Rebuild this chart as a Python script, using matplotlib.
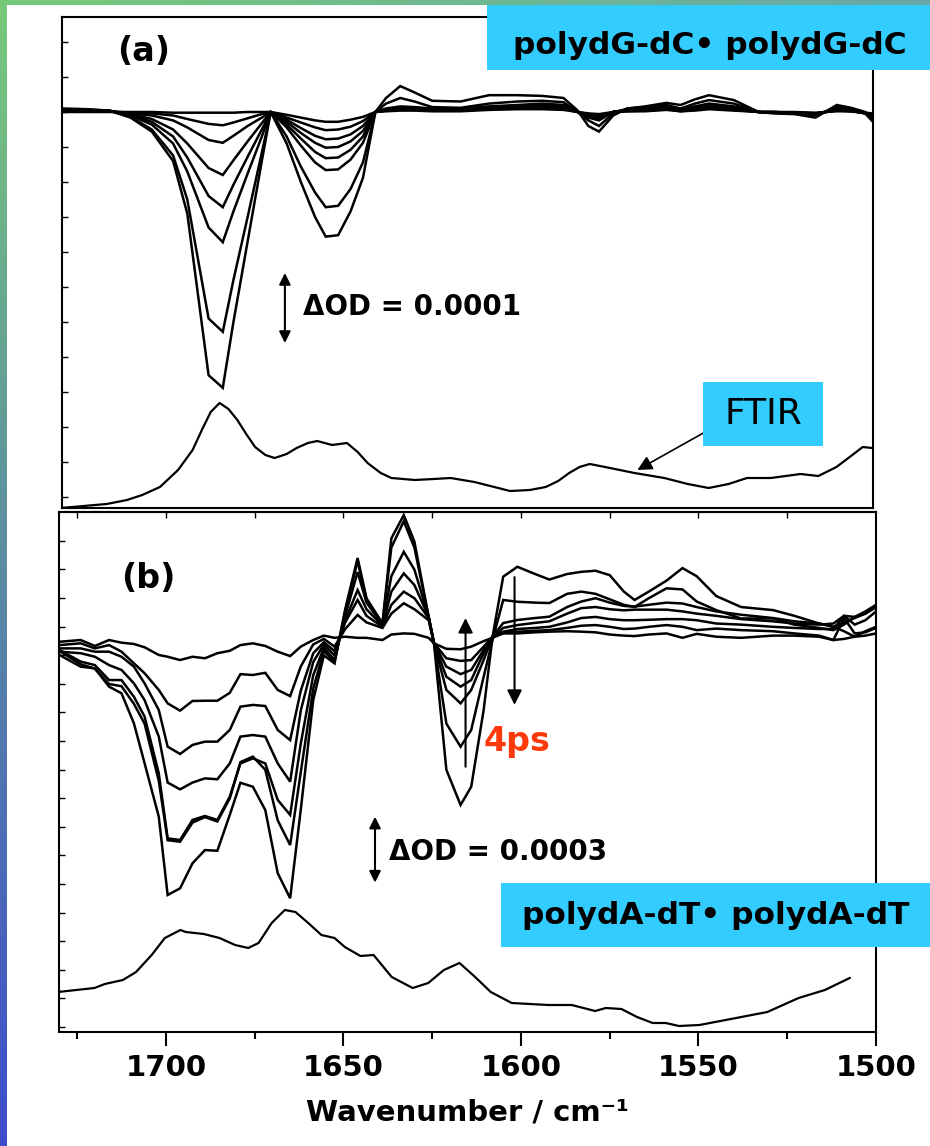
import numpy as np
import matplotlib
matplotlib.use('Agg')
import matplotlib.pyplot as plt
from matplotlib.patches import Rectangle

plt.rcParams['font.family'] = ['DejaVu Sans']

# ---------------- data: panel (a) transient spectra (units of 1e-4 OD) -------------
wn_a = [1729, 1722, 1716, 1710, 1704, 1698, 1694, 1688, 1684, 1681,
        1677, 1673, 1670.5, 1666, 1662, 1658, 1655, 1651.5, 1648, 1644.5,
        1641, 1638, 1634, 1630, 1625, 1617, 1609, 1601, 1594, 1588,
        1584, 1581, 1578, 1574, 1570, 1565, 1559, 1555, 1551, 1547,
        1540, 1533, 1529, 1523, 1517, 1511, 1507, 1503, 1501]
a1 = [0.05, 0.04, 0.02, -0.08, -0.28, -0.7, -1.45, -3.76, -3.94, -3.0,
      -1.85, -0.7, 0.0, -0.45, -1.0, -1.5, -1.78, -1.76, -1.42, -0.94,
      0.0, 0.2, 0.37, 0.28, 0.16, 0.15, 0.24, 0.24, 0.23, 0.2,
      0.02, -0.2, -0.28, -0.05, 0.05, 0.08, 0.13, 0.1, 0.18, 0.24,
      0.17, 0.0, -0.02, -0.03, -0.08, 0.1, 0.06, 0.0, -0.1]
a2 = [0.04, 0.03, 0.02, -0.07, -0.25, -0.62, -1.25, -2.95, -3.14, -2.4,
      -1.5, -0.58, 0.0, -0.35, -0.78, -1.15, -1.36, -1.34, -1.1, -0.72,
      0.0, 0.12, 0.2, 0.15, 0.07, 0.06, 0.12, 0.15, 0.16, 0.14,
      0.0, -0.12, -0.2, -0.02, 0.05, 0.07, 0.1, 0.05, 0.12, 0.17,
      0.12, 0.0, -0.01, -0.02, -0.05, 0.07, 0.04, -0.02, -0.13]
a3 = [0.03, 0.03, 0.02, -0.05, -0.18, -0.45, -0.85, -1.65, -1.86, -1.42,
      -0.88, -0.35, 0.0, -0.22, -0.48, -0.72, -0.83, -0.82, -0.68, -0.44,
      0.0, 0.05, 0.08, 0.07, 0.05, 0.05, 0.08, 0.1, 0.12, 0.1,
      0.0, -0.08, -0.12, 0.0, 0.04, 0.05, 0.08, 0.03, 0.08, 0.12,
      0.08, 0.0, -0.01, -0.02, -0.04, 0.05, 0.03, -0.01, -0.08]
a4 = [0.03, 0.02, 0.02, -0.04, -0.14, -0.35, -0.65, -1.2, -1.36, -1.04,
      -0.64, -0.25, 0.0, -0.18, -0.38, -0.57, -0.66, -0.65, -0.54, -0.35,
      0.0, 0.04, 0.06, 0.06, 0.04, 0.04, 0.07, 0.09, 0.1, 0.09,
      0.0, -0.06, -0.1, 0.0, 0.03, 0.04, 0.07, 0.03, 0.07, 0.1,
      0.07, 0.0, -0.01, -0.02, -0.03, 0.04, 0.02, -0.02, -0.06]
a5 = [0.02, 0.02, 0.01, -0.03, -0.1, -0.25, -0.45, -0.8, -0.9, -0.69,
      -0.42, -0.16, 0.0, -0.14, -0.3, -0.44, -0.51, -0.5, -0.42, -0.27,
      0.0, 0.03, 0.05, 0.05, 0.03, 0.03, 0.06, 0.07, 0.08, 0.07,
      0.0, -0.05, -0.08, 0.0, 0.02, 0.03, 0.06, 0.02, 0.05, 0.08,
      0.05, 0.0, 0.0, -0.01, -0.03, 0.03, 0.02, -0.02, -0.05]
a6 = [0.02, 0.02, 0.01, -0.02, -0.05, -0.12, -0.22, -0.4, -0.44, -0.34,
      -0.2, -0.08, 0.0, -0.11, -0.23, -0.34, -0.39, -0.38, -0.32, -0.2,
      0.0, 0.02, 0.04, 0.04, 0.02, 0.02, 0.05, 0.06, 0.06, 0.05,
      0.0, -0.04, -0.06, 0.0, 0.02, 0.02, 0.05, 0.02, 0.04, 0.06,
      0.04, 0.0, 0.0, -0.01, -0.02, 0.03, 0.01, -0.02, -0.04]
a7 = [0.01, 0.01, 0.01, -0.01, -0.02, -0.05, -0.1, -0.17, -0.19, -0.15,
      -0.09, -0.03, 0.0, -0.08, -0.15, -0.22, -0.26, -0.25, -0.21, -0.13,
      0.0, 0.02, 0.03, 0.03, 0.02, 0.02, 0.04, 0.05, 0.05, 0.04,
      0.0, -0.03, -0.05, 0.0, 0.01, 0.02, 0.04, 0.01, 0.03, 0.05,
      0.03, 0.0, 0.0, -0.01, -0.02, 0.02, 0.01, -0.01, -0.03]
a8 = [0.0, 0.0, 0.0, 0.0, 0.0, -0.01, -0.01, -0.01, -0.01, -0.01,
      0.0, 0.0, 0.0, -0.04, -0.08, -0.12, -0.14, -0.14, -0.11, -0.07,
      0.0, 0.01, 0.02, 0.02, 0.01, 0.01, 0.03, 0.04, 0.04, 0.03,
      0.0, -0.02, -0.03, 0.0, 0.01, 0.01, 0.03, 0.01, 0.02, 0.04,
      0.02, 0.0, 0.0, 0.0, -0.01, 0.01, 0.01, -0.01, -0.02]

# FTIR (a), arbitrary absorbance
ftir_a_wn = [1729.7, 1716.7, 1711.0, 1706.7, 1701.7, 1696.6, 1692.5, 1689.9, 1687.4, 1684.9,
             1682.4, 1679.9, 1677.4, 1674.9, 1672.0, 1669.4, 1666.0, 1663.2, 1660.0, 1657.4,
             1653.2, 1649.0, 1646.0, 1643.2, 1639.5, 1636.5, 1629.9, 1624.5, 1619.8, 1613.1,
             1607.5, 1603.1, 1597.5, 1593.0, 1589.5, 1586.4, 1583.5, 1580.6, 1576.3, 1568.0,
             1559.6, 1553.0, 1547.1, 1541.5, 1536.3, 1529.6, 1521.2, 1516.2, 1511.1, 1507.0,
             1503.7, 1501.1]
ftir_a = [0.00, 0.04, 0.08, 0.13, 0.21, 0.38, 0.58, 0.78, 0.96, 1.05,
          0.99, 0.88, 0.74, 0.61, 0.53, 0.50, 0.54, 0.60, 0.65, 0.67,
          0.63, 0.65, 0.56, 0.45, 0.35, 0.30, 0.28, 0.29, 0.30, 0.26,
          0.21, 0.17, 0.18, 0.21, 0.27, 0.35, 0.41, 0.44, 0.41, 0.35,
          0.30, 0.24, 0.20, 0.24, 0.30, 0.30, 0.34, 0.32, 0.41, 0.52,
          0.61, 0.60]

# ---------------- data: panel (b) transient spectra (units of 1e-4 OD) -------------
wn_b = [1730, 1724, 1720, 1716, 1712.5, 1709, 1706, 1702, 1699.5, 1696,
        1692.5, 1689, 1685.5, 1682, 1679, 1675.5, 1672, 1668.5, 1665, 1662,
        1658.5, 1655.5, 1652.5, 1649.5, 1646, 1643.5, 1639, 1636.5, 1633, 1630,
        1626, 1624.5, 1621, 1617, 1614, 1610.5, 1608, 1605, 1601, 1596,
        1592, 1587, 1583, 1579, 1575, 1571, 1568, 1564, 1559, 1554.5,
        1550.5, 1545, 1538, 1529, 1523, 1516, 1512, 1509, 1506, 1503, 1500]
b1 = [-0.08, 0.0, -0.27, 0.0, -0.12, -0.18, -0.33, -0.68, -0.76, -0.91,
      -0.76, -0.83, -0.60, -0.49, -0.23, -0.15, -0.27, -0.53, -0.73, -0.30,
      0.0, 0.2, 0.1, 0.15, 0.1, 0.1, 0.0, 0.25, 0.3, 0.28,
      0.1, -0.15, -0.4, -0.42, -0.3, -0.05, 0.1, 0.3, 0.3, 0.35,
      0.38, 0.4, 0.38, 0.35, 0.25, 0.2, 0.18, 0.25, 0.3, 0.1,
      0.28, 0.15, 0.1, 0.2, 0.2, 0.15, 0.0, 0.05, 0.15, 0.4, 0.6]
b2 = [-0.23, -0.15, -0.38, -0.23, -0.53, -1.06, -1.51, -2.27, -2.88, -3.21,
      -2.77, -2.76, -2.76, -2.40, -1.55, -1.59, -1.49, -2.27, -2.55, -1.2,
      -0.2, 0.05, -0.3, 0.5, 1.14, 0.8, 0.55, 1.2, 1.67, 1.4,
      0.9, -0.14, -0.83, -0.95, -0.91, -0.3, 0.15, 0.32, 0.38, 0.42,
      0.45, 0.55, 0.65, 0.68, 0.6, 0.5, 0.52, 0.6, 0.68, 0.6,
      0.45, 0.52, 0.45, 0.4, 0.3, 0.2, 0.0, 1.0, 0.3, 0.35, 0.55]
b3 = [-0.38, -0.38, -0.53, -0.53, -0.76, -1.21, -1.97, -3.18, -4.85, -5.18,
      -4.77, -4.62, -4.62, -4.09, -3.03, -2.95, -3.0, -4.09, -4.55, -2.3,
      -0.6, -0.1, -0.5, 0.8, 1.82, 1.1, 0.6, 1.6, 2.2, 1.9,
      1.0, -0.14, -1.21, -1.55, -1.36, -0.45, 0.15, 0.38, 0.5, 0.55,
      0.6, 0.8, 1.0, 1.05, 0.95, 0.9, 0.9, 0.92, 0.95, 0.95,
      0.9, 0.75, 0.7, 0.6, 0.55, 0.5, 0.5, 1.1, 0.7, 0.9, 1.3]
b4 = [-0.53, -0.60, -0.76, -1.14, -1.36, -1.97, -2.73, -4.39, -6.48, -6.79,
      -6.48, -6.29, -6.33, -5.61, -4.39, -4.32, -4.39, -5.61, -6.44, -3.2,
      -1.0, -0.2, -0.7, 0.9, 2.27, 1.4, 0.65, 2.2, 3.03, 2.5,
      1.06, -0.14, -1.67, -2.12, -1.82, -0.6, 0.15, 0.55, 0.68, 0.78,
      0.85, 1.2, 1.45, 1.5, 1.4, 1.35, 1.38, 1.38, 1.38, 1.3,
      1.2, 1.1, 0.95, 0.85, 0.75, 0.7, 0.75, 1.1, 1.05, 1.2, 1.5]
b5 = [-0.45, -0.98, -1.14, -1.82, -1.82, -2.58, -3.48, -6.06, -9.02, -9.09,
      -8.18, -8.0, -8.18, -7.12, -5.61, -5.38, -5.61, -7.27, -7.95, -4.7,
      -1.6, -0.35, -0.9, 1.1, 3.09, 1.7, 0.7, 2.9, 4.01, 3.2,
      1.06, -0.14, -2.27, -2.88, -2.27, -0.91, 0.15, 0.77, 0.91, 1.0,
      1.06, 1.5, 1.75, 1.9, 1.7, 1.55, 1.52, 1.6, 1.7, 1.66,
      1.5, 1.3, 1.15, 1.0, 0.85, 0.75, 0.6, 0.8, 1.0, 1.2, 1.5]
b6 = [-0.5, -1.1, -1.3, -2.0, -2.1, -2.9, -3.8, -6.4, -9.1, -9.17,
      -8.3, -8.05, -8.25, -7.2, -5.55, -5.3, -5.9, -8.2, -9.32, -6.0,
      -2.2, -0.5, -1.0, 1.3, 3.59, 1.85, 0.75, 4.2, 5.4, 4.2,
      1.06, -0.14, -3.8, -4.85, -4.09, -1.67, 0.0, 1.82, 1.74, 1.7,
      1.68, 2.1, 2.2, 2.1, 1.85, 1.6, 1.5, 1.9, 2.35, 2.3,
      1.75, 1.36, 0.98, 0.98, 0.7, 0.55, 0.45, 0.7, 1.05, 1.3, 1.6]
b7 = [-0.68, -1.21, -1.29, -2.12, -2.42, -3.79, -5.6, -8.03, -11.59, -11.29,
      -10.15, -9.55, -9.58, -7.95, -6.49, -6.67, -7.73, -10.6, -11.74, -7.7,
      -2.73, -0.7, -1.06, 1.4, 3.73, 1.9, 0.75, 4.62, 5.68, 4.47,
      1.06, -0.14, -5.9, -7.5, -6.67, -3.18, 0.15, 2.88, 3.33, 3.0,
      2.75, 3.0, 3.1, 3.15, 2.95, 2.2, 1.82, 2.2, 2.7, 3.27,
      2.9, 2.0, 1.5, 1.36, 1.1, 0.75, 0.6, 0.4, 0.15, 0.2, 0.3]

# FTIR (b), arbitrary absorbance
ftir_b_wn = [1730.4, 1720.1, 1717.2, 1712.1, 1708.4, 1704.0, 1700.3, 1695.9, 1694.4, 1689.3,
             1684.9, 1680.5, 1676.8, 1673.9, 1670.2, 1666.5, 1663.5, 1659.9, 1656.2, 1652.5,
             1649.6, 1645.2, 1641.5, 1636.4, 1630.5, 1626.1, 1621.7, 1617.3, 1612.9, 1608.5,
             1602.6, 1592.3, 1585.7, 1579.1, 1576.1, 1571.7, 1567.3, 1562.9, 1559.2, 1555.5,
             1549.7, 1539.4, 1530.6, 1521.8, 1514.4, 1507.4]
ftir_b = [0.40, 0.44, 0.48, 0.52, 0.60, 0.77, 0.94, 1.02, 1.00, 0.98,
          0.94, 0.87, 0.84, 0.89, 1.09, 1.22, 1.20, 1.09, 0.97, 0.94,
          0.85, 0.76, 0.77, 0.55, 0.44, 0.49, 0.62, 0.69, 0.55, 0.40,
          0.29, 0.27, 0.27, 0.21, 0.24, 0.23, 0.15, 0.09, 0.09, 0.06,
          0.07, 0.14, 0.20, 0.34, 0.42, 0.54]

x_ticks = [1700, 1650, 1600, 1550, 1500]

# ---------------- figure ----------------
W, H = 930, 1146
fig = plt.figure(figsize=(W / 100, H / 100), dpi=100)
fig.patch.set_facecolor('white')


def fx(px):
    return px / W


def fy(py):
    return 1 - py / H


# gradient border (left and top strips)
bg = fig.add_axes([0, 0, 1, 1], zorder=-10)
t = np.linspace(0, 1, 256)
c_tl = np.array([0.47, 0.79, 0.48])
c_bl = np.array([0.24, 0.30, 0.80])
c_tr = np.array([0.40, 0.66, 0.66])
left_strip = (c_tl[None, :] * (1 - t[:, None]) + c_bl[None, :] * t[:, None])[:, None, :]
top_strip = (c_tl[None, :] * (1 - t[:, None]) + c_tr[None, :] * t[:, None])[None, :, :]
bg.imshow(left_strip, extent=[0, 6, H, 0], aspect='auto', interpolation='bilinear')
bg.imshow(top_strip, extent=[0, W, 5, 0], aspect='auto', interpolation='bilinear')
bg.set_xlim(0, W)
bg.set_ylim(H, 0)
bg.axis('off')

lw_t = 1.8
lw_f = 1.6
dbl = dict(arrowstyle='<|-|>', lw=1.5, color='black', mutation_scale=17,
           shrinkA=0, shrinkB=0)
sgl = dict(arrowstyle='-|>', lw=1.5, color='black', mutation_scale=22,
           shrinkA=0, shrinkB=0)

# ---------------- panel (a) ----------------
ax_a = fig.add_axes([fx(62), fy(508), 811 / W, 491 / H])
for c in (a1, a2, a3, a4, a5, a6, a7, a8):
    ax_a.plot(wn_a, c, color='black', lw=lw_t, solid_joinstyle='miter')
ax_a.set_xlim(1729.3, 1500.8)
ax_a.set_ylim(-5.657, 1.357)
ax_a.tick_params(axis='x', bottom=False, labelbottom=False)
ax_a.set_yticks(np.arange(-5.5, 1.3, 0.5))
ax_a.tick_params(axis='y', direction='in', length=4, width=1, labelleft=False)
for s in ax_a.spines.values():
    s.set_linewidth(1.5)

ax_af = ax_a.twinx()
ax_af.plot(ftir_a_wn, ftir_a, color='black', lw=lw_f)
ax_af.set_ylim(0, 4.91)
ax_af.axis('off')

ax_a.text(0.068, 0.929, '(a)', transform=ax_a.transAxes, fontsize=24,
          fontweight='bold', ha='left', va='center')
ax_a.annotate('', xy=(1666.5, -2.3), xytext=(1666.5, -3.3), arrowprops=dbl)
ax_a.text(1661.4, -2.78, 'ΔOD = 0.0001', fontsize=20, fontweight='bold',
          ha='left', va='center')

ax_af.annotate('', xy=(1567.2, 0.38), xytext=(1547.1, 0.78),
               arrowprops=dict(arrowstyle='-|>', lw=1.2, color='black',
                               mutation_scale=22, shrinkA=0, shrinkB=0))

# ---------------- panel (b) ----------------
ax_b = fig.add_axes([fx(59), fy(1032), 817 / W, 520 / H])
for c in (b1, b2, b3, b4, b5, b6, b7):
    ax_b.plot(wn_b, c, color='black', lw=lw_t, solid_joinstyle='miter')
ax_b.set_xlim(1730.1, 1500)
ax_b.set_ylim(-17.82, 5.82)
ax_b.set_xticks(x_ticks)
ax_b.set_xticklabels([str(v) for v in x_ticks])
ax_b.set_xticks([1725, 1675, 1625, 1575, 1525], minor=True)
ax_b.tick_params(axis='x', which='major', direction='out', length=10, width=1.5,
                 pad=6, labelsize=21)
ax_b.tick_params(axis='x', which='minor', direction='out', length=5, width=1.5)
for lab in ax_b.get_xticklabels():
    lab.set_fontweight('bold')
ax_b.set_yticks(np.arange(1.91 - 1.3 * 15, 5.8, 1.3))
ax_b.tick_params(axis='y', direction='in', length=4, width=1, labelleft=False)
for s in ax_b.spines.values():
    s.set_linewidth(1.5)
ax_b.set_xlabel('Wavenumber / cm\u207b\u00b9', fontsize=21,
                fontweight='bold', labelpad=12)

sec = ax_b.secondary_xaxis('top')
sec.set_xticks([1725, 1700, 1675, 1650, 1625, 1600, 1575, 1550, 1525])
sec.tick_params(direction='in', length=4, width=1, labeltop=False)
sec.spines['top'].set_linewidth(1.5)

ax_bf = ax_b.twinx()
ax_bf.plot(ftir_b_wn, ftir_b, color='black', lw=lw_f)
ax_bf.set_ylim(0, 5.2)
ax_bf.axis('off')

ax_b.text(0.076, 0.873, '(b)', transform=ax_b.transAxes, fontsize=24,
          fontweight='bold', ha='left', va='center')
ax_b.annotate('', xy=(1641.1, -8.03), xytext=(1641.1, -11.03), arrowprops=dbl)
ax_b.text(1637.2, -9.62, 'ΔOD = 0.0003', fontsize=20, fontweight='bold',
          ha='left', va='center')
ax_b.annotate('', xy=(1615.6, 1.0), xytext=(1615.6, -5.76), arrowprops=sgl)
ax_b.annotate('', xy=(1601.8, -2.95), xytext=(1601.8, 2.86), arrowprops=sgl)
ax_b.text(1610.4, -4.6, '4ps', color='#FF3A0A', fontsize=24, fontweight='bold',
          ha='left', va='center')

# ---------------- label boxes ----------------
cyan = '#33CCFF'
fig.add_artist(Rectangle((fx(487), fy(70)), (W - 487) / W, 65 / H,
                         transform=fig.transFigure, fc=cyan, ec='none', zorder=5))
fig.text(fx(710), fy(46), 'polydG-dC• polydG-dC', fontsize=22.5, fontweight='bold',
         ha='center', va='center', zorder=6)
fig.add_artist(Rectangle((fx(501), fy(947)), (W - 501) / W, 64 / H,
                         transform=fig.transFigure, fc=cyan, ec='none', zorder=5))
fig.text(fx(716), fy(916), 'polydA-dT• polydA-dT', fontsize=22.5, fontweight='bold',
         ha='center', va='center', zorder=6)
fig.add_artist(Rectangle((fx(703), fy(446)), 120 / W, 64 / H,
                         transform=fig.transFigure, fc=cyan, ec='none', zorder=5))
fig.text(fx(763), fy(414), 'FTIR', fontsize=26, ha='center', va='center', zorder=6)

fig.savefig('out.png', dpi=100, facecolor='white')
